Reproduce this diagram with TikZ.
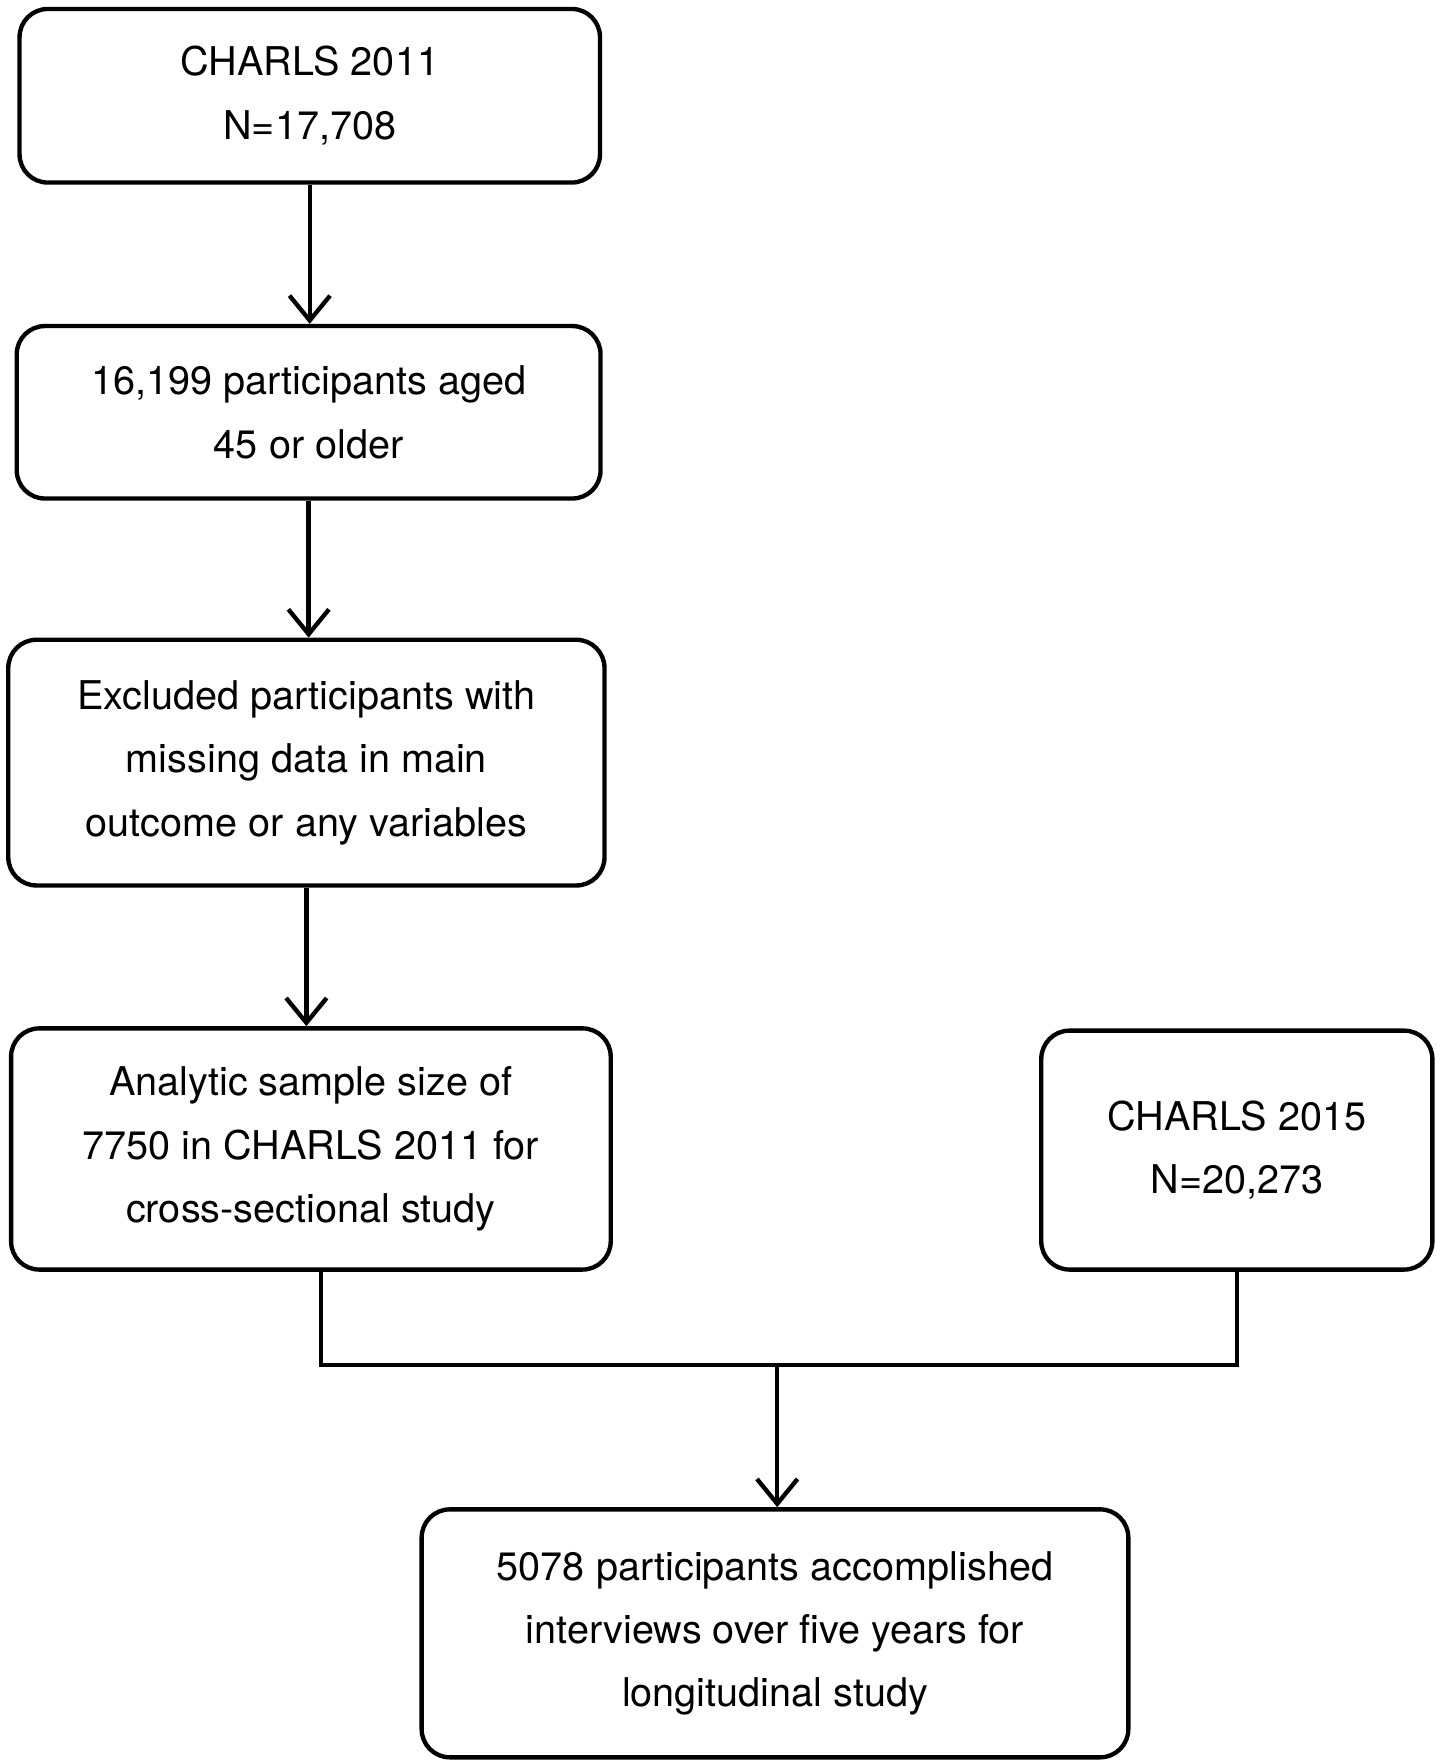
\documentclass[tikz,border=0pt]{standalone}
\usepackage{fontspec}
\setmainfont{TeX Gyre Heros}
\usetikzlibrary{arrows.meta}
\begin{document}
\begin{tikzpicture}[x=0.01cm,y=-0.01cm,line width=1.1pt,
  box/.style={draw,rounded corners=0.25cm,align=center,inner sep=0pt,
    font=\fontsize{10}{16}\selectfont},
  arr/.style={-{Straight Barb[length=2.2mm,width=3.6mm,line width=1.1pt]}}]
\useasboundingbox (0,0) rectangle (1280,1566);

\node[box,minimum width=5.15cm,minimum height=1.54cm] (charls11) at (275,85) {CHARLS 2011\\N=17,708};
\node[box,minimum width=5.18cm,minimum height=1.53cm] (aged) at (274,366) {16,199 participants aged\\45 or older};
\node[box,minimum width=5.29cm,minimum height=2.18cm] (excl) at (272,677) {Excluded participants with\\missing data in main\\outcome or any variables};
\node[box,minimum width=5.32cm,minimum height=2.14cm] (sample) at (276,1020) {Analytic sample size of\\7750 in CHARLS 2011 for\\cross-sectional study};
\node[box,minimum width=3.47cm,minimum height=2.12cm] (charls15) at (1098,1021) {CHARLS 2015\\N=20,273};
\node[box,minimum width=6.27cm,minimum height=2.2cm] (longi) at (688,1450) {5078 participants accomplished\\interviews over five years for\\longitudinal study};

\draw[arr] (charls11) -- (aged.north -| charls11);
\draw[arr] (aged) -- (excl.north -| aged);
\draw[arr] (excl) -- (sample.north -| excl);

\coordinate (join) at (690,1212);
\draw ([xshift=0.09cm]sample.south) -- ([xshift=0.09cm]sample.south |- join)
  -- (charls15.south |- join) -- (charls15.south);
\draw[arr] (join) -- (longi.north -| join);
\end{tikzpicture}
\end{document}
